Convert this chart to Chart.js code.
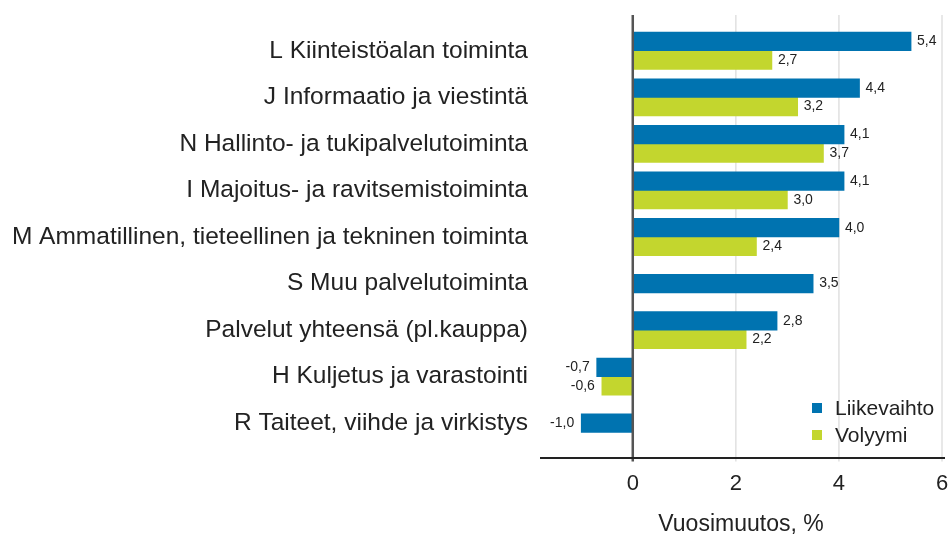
<!DOCTYPE html>
<html lang="fi">
<head>
<meta charset="utf-8">
<script src="https://cdn.jsdelivr.net/npm/chart.js@4.4.1/dist/chart.umd.min.js"></script>
<style>
  html, body { margin: 0; padding: 0; background: #fff; }
  #wrap { position: relative; width: 949px; height: 535px; }
  #legend { position: absolute; left: 812px; top: 394px; font: 21px 'Liberation Sans', Arial, sans-serif; color: #222; }
  #legend .item { display: flex; align-items: center; height: 27px; }
  #legend .box { width: 10px; height: 10px; margin-right: 13px; }
</style>
</head>
<body>
<div id="wrap">
  <canvas id="chart" width="949" height="535"></canvas>
  <div id="legend"></div>
</div>
<script>
const categories = [
  'L Kiinteistöalan toiminta',
  'J Informaatio ja viestintä',
  'N Hallinto- ja tukipalvelutoiminta',
  'I Majoitus- ja ravitsemistoiminta',
  'M Ammatillinen, tieteellinen ja tekninen toiminta',
  'S Muu palvelutoiminta',
  'Palvelut yhteensä (pl.kauppa)',
  'H Kuljetus ja varastointi',
  'R Taiteet, viihde ja virkistys'
];
const liikevaihto = [5.4, 4.4, 4.1, 4.1, 4.0, 3.5, 2.8, -0.7, -1.0];
const volyymi = [2.7, 3.2, 3.7, 3.0, 2.4, null, 2.2, -0.6, null];
const xTicks = [0, 2, 4, 6];

const fontFamily = "'Liberation Sans', Arial, sans-serif";
const textColor = '#222';
const blue = '#0073b0';
const green = '#c3d62e';

const fmt = v => v.toFixed(1).replace('.', ',');

// gridlines, zero line and axis line run a bit past the plot area like in the original
const frameLines = {
  id: 'frameLines',
  beforeDatasetsDraw(chart) {
    const { ctx, chartArea: a, scales: { x } } = chart;
    ctx.save();
    ctx.strokeStyle = '#e0e0e0';
    ctx.lineWidth = 1.5;
    x.ticks.forEach(t => {
      if (t.value === 0) return;
      const px = x.getPixelForValue(t.value);
      ctx.beginPath();
      ctx.moveTo(px, a.top - 12.5);
      ctx.lineTo(px, a.bottom + 15);
      ctx.stroke();
    });
    ctx.restore();
  },
  afterDatasetsDraw(chart) {
    const { ctx, chartArea: a, scales: { x } } = chart;
    const x0 = x.getPixelForValue(0);
    ctx.save();
    ctx.strokeStyle = '#555';
    ctx.lineWidth = 2.5;
    ctx.beginPath();
    ctx.moveTo(x0, a.top - 12.5);
    ctx.lineTo(x0, a.bottom + 15);
    ctx.stroke();

    ctx.strokeStyle = '#222';
    ctx.lineWidth = 2;
    ctx.beginPath();
    ctx.moveTo(a.left, a.bottom + 11.5);
    ctx.lineTo(a.right + 3, a.bottom + 11.5);
    ctx.stroke();

    // value labels
    ctx.fillStyle = textColor;
    ctx.font = '14px ' + fontFamily;
    ctx.textBaseline = 'middle';
    chart.data.datasets.forEach((ds, i) => {
      chart.getDatasetMeta(i).data.forEach((bar, j) => {
        const v = ds.data[j];
        if (v == null) return;
        const neg = v < 0;
        ctx.textAlign = neg ? 'right' : 'left';
        ctx.fillText(fmt(v), bar.x + (neg ? -7 : 6), bar.y);
      });
    });
    ctx.restore();
  }
};

const chart = new Chart(document.getElementById('chart'), {
  type: 'bar',
  data: {
    labels: categories,
    datasets: [
      { label: 'Liikevaihto', data: liikevaihto, backgroundColor: blue, skipNull: true },
      { label: 'Volyymi', data: volyymi, backgroundColor: green, skipNull: true }
    ]
  },
  options: {
    indexAxis: 'y',
    responsive: false,
    animation: false,
    barThickness: 18.6,
    layout: { padding: { top: 27.5, right: 7, left: 0, bottom: 0 } },
    plugins: { legend: { display: false }, tooltip: { enabled: false } },
    scales: {
      x: {
        min: -1.8,
        max: 6,
        grid: { display: false, drawTicks: false },
        border: { display: false },
        afterBuildTicks: s => { s.ticks = xTicks.map(v => ({ value: v })); },
        afterFit: s => { s.height = 88.5; s.paddingLeft = 0; s.paddingRight = 0; },
        ticks: { padding: 24, color: textColor, font: { size: 22, family: fontFamily } },
        title: {
          display: true,
          text: 'Vuosimuutos, %',
          color: textColor,
          padding: 0,
          font: { size: 23, family: fontFamily, lineHeight: '20px' }
        }
      },
      y: {
        grid: { display: false, drawTicks: false },
        border: { display: false },
        afterFit: s => { s.width = 540; },
        ticks: { padding: 12, color: textColor, font: { size: 24.5, family: fontFamily } }
      }
    }
  },
  plugins: [frameLines]
});

// legend as html, built from the datasets
const legendEl = document.getElementById('legend');
chart.data.datasets.forEach(ds => {
  const item = document.createElement('div');
  item.className = 'item';
  const box = document.createElement('span');
  box.className = 'box';
  box.style.background = ds.backgroundColor;
  const txt = document.createElement('span');
  txt.textContent = ds.label;
  item.appendChild(box);
  item.appendChild(txt);
  legendEl.appendChild(item);
});
</script>
</body>
</html>
